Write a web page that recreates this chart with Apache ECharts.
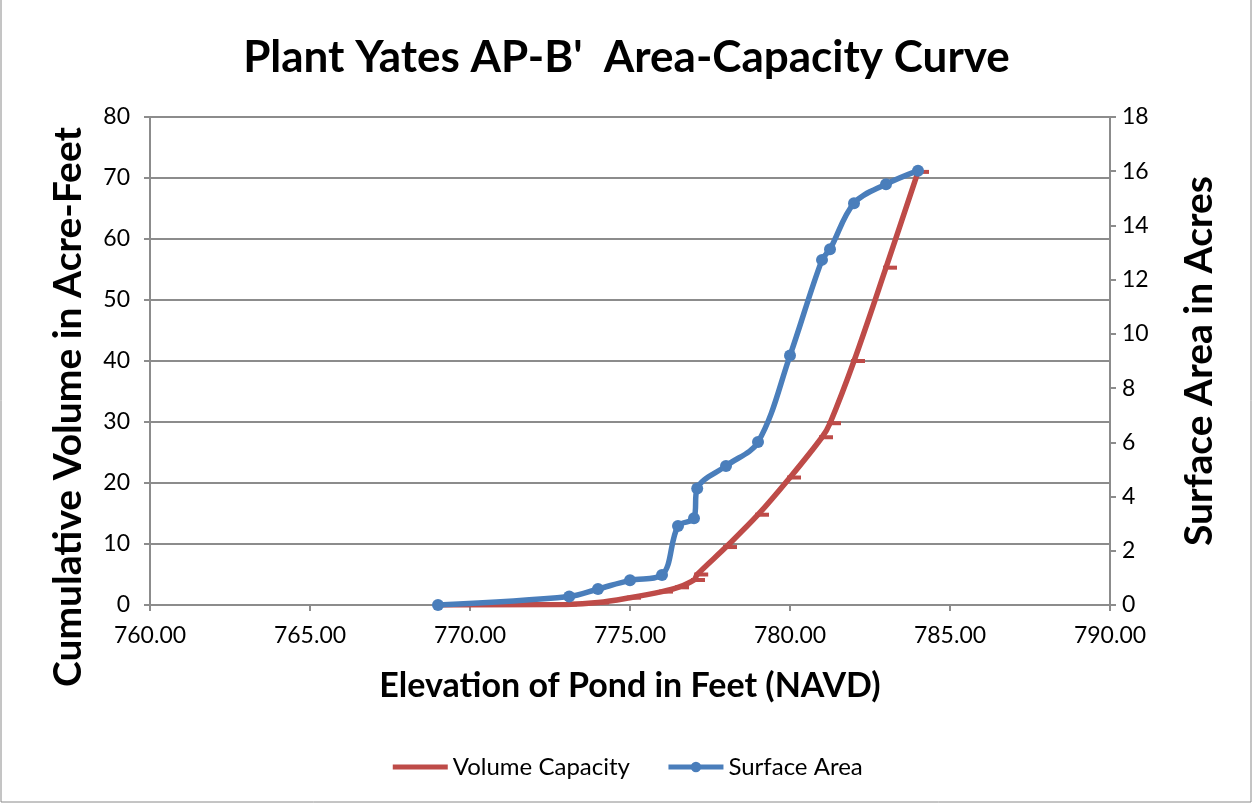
<!DOCTYPE html>
<html>
<head>
<meta charset="utf-8">
<script src="https://cdn.jsdelivr.net/npm/echarts@6/dist/echarts.min.js"></script>
<style>
  html, body { margin: 0; padding: 0; background: #fff; }
  #chart { width: 1253px; height: 804px; }
</style>
</head>
<body>
<div id="chart"></div>
<script>
// ---- Data ----
const titleText = "Plant Yates AP-B'  Area-Capacity Curve";
const xAxisName = "Elevation of Pond in Feet (NAVD)";
const leftAxisName = "Cumulative Volume in Acre-Feet";
const rightAxisName = "Surface Area in Acres";
const seriesNames = ["Volume Capacity", "Surface Area"];

// Volume Capacity (left axis, acre-feet)
const volumeElevation = [769, 773, 774, 775, 776, 776.5, 777, 777.1, 778, 779, 780, 781, 781.25, 782, 783, 784];
const volumeValues    = [0, 0.1, 0.4, 1.2, 2.2, 2.9, 4.1, 5.0, 9.5, 14.8, 20.9, 27.5, 29.8, 40.0, 55.3, 71.0];

// Surface Area (right axis, acres)
const areaElevation = [769, 773.1, 774, 775, 776, 776.5, 777, 777.1, 778, 779, 780, 781, 781.25, 782, 783, 784];
const areaValues    = [0, 0.31, 0.59, 0.91, 1.11, 2.91, 3.2, 4.3, 5.13, 6.01, 9.2, 12.73, 13.12, 14.82, 15.52, 16.02];

const xRange = { min: 760, max: 790, interval: 5 };
const leftRange = { min: 0, max: 80, interval: 10 };
const rightRange = { min: 0, max: 18, interval: 2 };

// ---- Chart ----
const volumeData = volumeElevation.map((x, i) => [x, volumeValues[i]]);
const areaData = areaElevation.map((x, i) => [x, areaValues[i]]);

const FONT = 'Lato';
const AXIS_GRAY = '#8c8c8c';
const RED = '#BE4B48';
const BLUE = '#4A7EBB';

const chart = echarts.init(document.getElementById('chart'), null, { renderer: 'canvas' });
chart.setOption({
  backgroundColor: '#ffffff',
  animation: false,
  textStyle: { fontFamily: FONT },
  title: {
    text: titleText,
    left: 'center',
    top: 31,
    textStyle: { fontFamily: FONT, fontWeight: 'bold', fontSize: 44, color: '#000' }
  },
  graphic: [{
    type: 'rect',
    shape: { x: 1, y: -5, width: 1250, height: 807 },
    style: { fill: 'none', stroke: '#8a8a8a', lineWidth: 1 },
    silent: true
  }, {
    type: 'text',
    x: 68,
    y: 407,
    rotation: Math.PI / 2,
    silent: true,
    style: {
      text: leftAxisName,
      fontFamily: FONT,
      fontWeight: 'bold',
      fontSize: 39,
      fill: '#000',
      align: 'center',
      verticalAlign: 'middle'
    }
  }],
  grid: { left: 150, right: 143, top: 117, bottom: 199, containLabel: false },
  legend: {
    bottom: 20,
    left: 'center',
    itemWidth: 55,
    itemHeight: 13,
    itemGap: 36,
    lineStyle: { width: 5 },
    textStyle: { fontFamily: FONT, fontSize: 24, color: '#000' },
    data: [
      { name: seriesNames[0], itemStyle: { opacity: 0 } },
      { name: seriesNames[1] }
    ]
  },
  xAxis: {
    type: 'value',
    min: xRange.min, max: xRange.max, interval: xRange.interval,
    name: xAxisName,
    nameLocation: 'middle',
    nameGap: 64,
    nameTextStyle: { fontFamily: FONT, fontWeight: 'bold', fontSize: 34, color: '#000' },
    axisLine: { show: true, onZero: false, lineStyle: { color: AXIS_GRAY, width: 2 } },
    axisTick: { show: true, length: 6, lineStyle: { color: AXIS_GRAY, width: 2 } },
    axisLabel: { margin: 19, fontFamily: FONT, fontSize: 23, color: '#000', formatter: v => v.toFixed(2) },
    splitLine: { show: false }
  },
  yAxis: [{
    type: 'value',
    position: 'left',
    min: leftRange.min, max: leftRange.max, interval: leftRange.interval,
    axisLine: { show: true, lineStyle: { color: AXIS_GRAY, width: 2 } },
    axisTick: { show: true, length: 6, lineStyle: { color: AXIS_GRAY, width: 2 } },
    axisLabel: { margin: 20, fontFamily: FONT, fontSize: 23, color: '#000' },
    splitLine: { show: true, lineStyle: { color: AXIS_GRAY, width: 2 } }
  }, {
    type: 'value',
    position: 'right',
    min: rightRange.min, max: rightRange.max, interval: rightRange.interval,
    name: rightAxisName,
    nameLocation: 'middle',
    nameGap: 70,
    nameRotate: 90,
    nameTextStyle: { fontFamily: FONT, fontWeight: 'bold', fontSize: 39, color: '#000' },
    axisLine: { show: true, lineStyle: { color: AXIS_GRAY, width: 2 } },
    axisTick: { show: true, length: 6, lineStyle: { color: AXIS_GRAY, width: 2 } },
    axisLabel: { margin: 12, fontFamily: FONT, fontSize: 23, color: '#000' },
    splitLine: { show: false }
  }],
  series: [{
    name: seriesNames[0],
    type: 'line',
    yAxisIndex: 0,
    data: volumeData,
    smooth: 0.35,
    symbol: 'rect',
    symbolSize: [14, 4],
    symbolOffset: [4, 0],
    itemStyle: { color: RED },
    lineStyle: { color: RED, width: 5.5 },
    z: 2
  }, {
    name: seriesNames[1],
    type: 'line',
    yAxisIndex: 1,
    data: areaData,
    smooth: 0.35,
    symbol: 'circle',
    symbolSize: 12,
    itemStyle: { color: BLUE },
    lineStyle: { color: BLUE, width: 5.5 },
    z: 3
  }]
});
</script>
</body>
</html>
